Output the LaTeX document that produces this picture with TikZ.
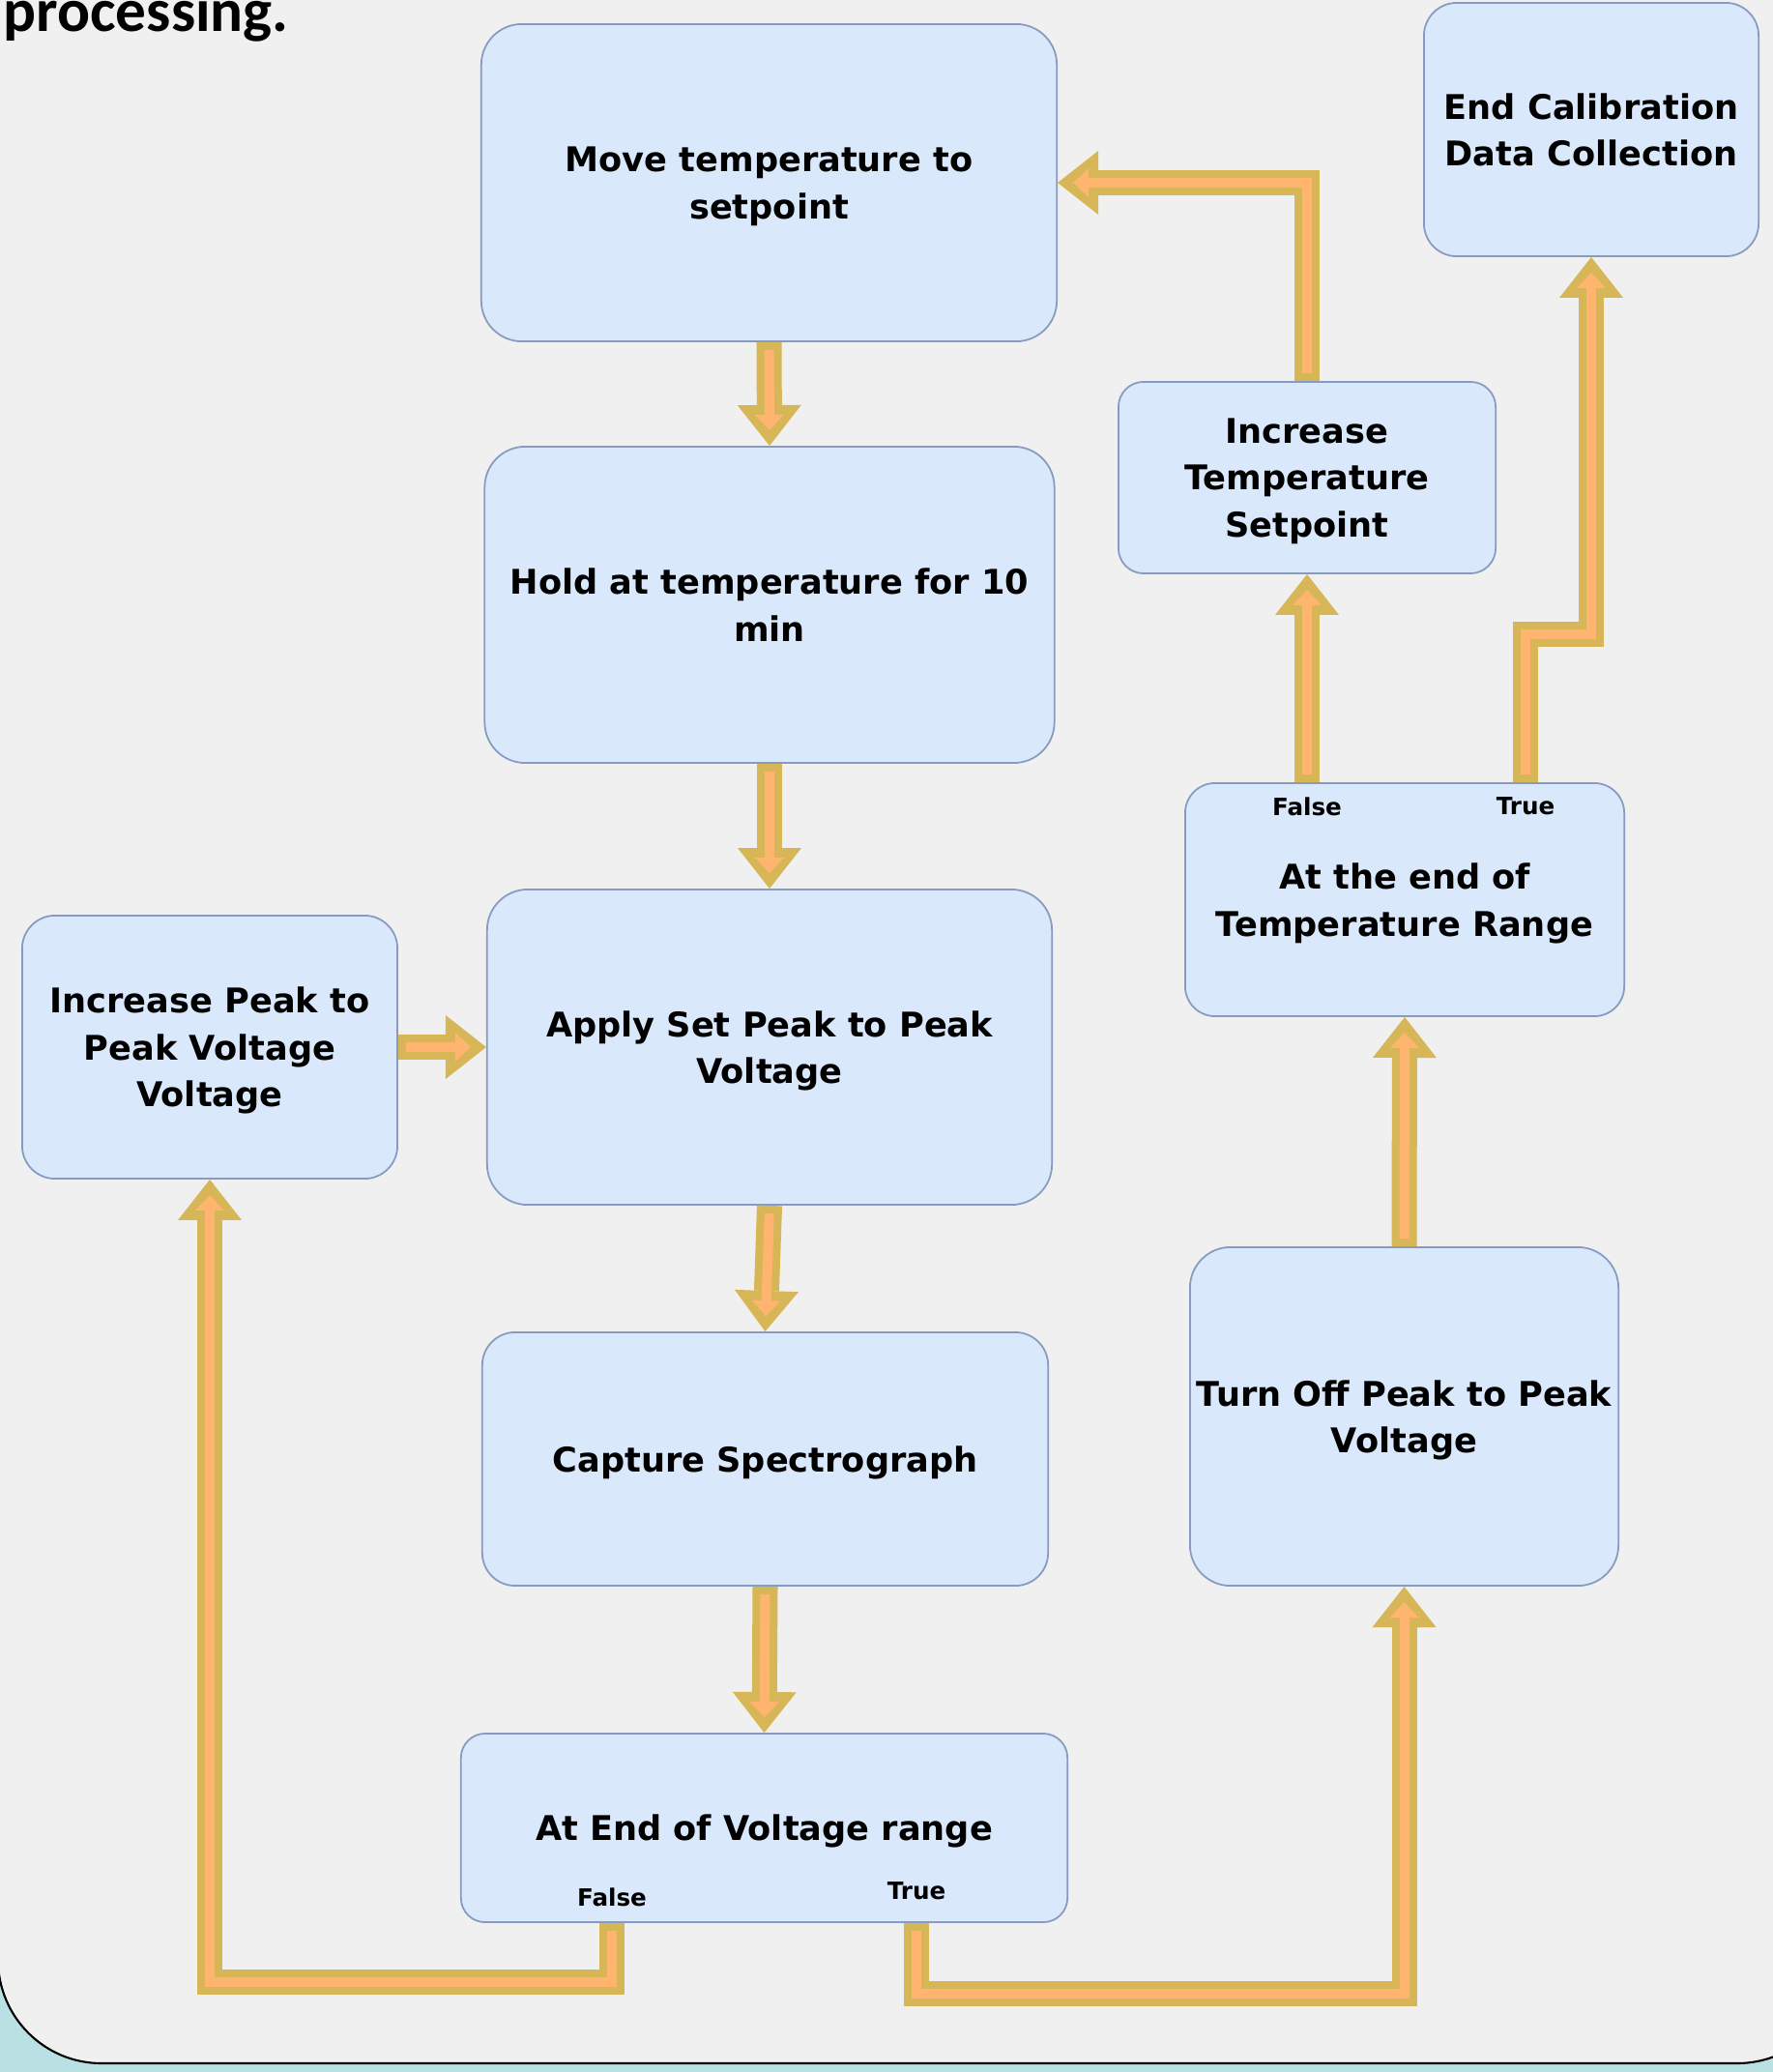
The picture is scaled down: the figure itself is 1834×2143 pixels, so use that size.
\documentclass[tikz,border=0pt]{standalone}
\usepackage{fontspec}
\setmainfont{DejaVu Sans}
\newfontfamily\ttlfont{Carlito}
\usepackage{tikz}
\usetikzlibrary{arrows.meta}
\definecolor{bxfill}{HTML}{DAE8FC}
\definecolor{bxline}{RGB}{135,155,192}
\definecolor{gold}{HTML}{D6B656}
\definecolor{orng}{HTML}{FFB570}
\definecolor{bggray}{HTML}{F0F0F0}
\definecolor{bgsea}{RGB}{185,224,227}
\tikzstyle{ndbox} = [draw=bxline, line width=0.5pt, fill=bxfill, align=center, inner sep=0pt, text depth=0pt, font=\bfseries\fontsize{10}{13.8}\selectfont]
\tikzstyle{ndlbl} = [inner sep=0pt, font=\bfseries\fontsize{7}{8}\selectfont]
\tikzstyle{ndttl} = [inner sep=0pt, anchor=base west, font=\ttlfont\bfseries\fontsize{18}{20}\selectfont]
\tikzstyle{flw} = [draw=gold, line width=0.26cm, line join=miter, -{Triangle[width=0.66cm,length=0.42cm,line width=0pt]},
  postaction={draw=orng, line width=0.1cm, line join=miter, shorten <=0.08cm, shorten >=0.16cm, -{Triangle[width=0.3cm,length=0.16cm,line width=0pt]}}]

\begin{document}
\begin{tikzpicture}[x=0.01cm, y=-0.01cm]
        \useasboundingbox (0,0) rectangle (1834,2143);
        \clip (0,0) rectangle (1834,2143);
        \fill[bgsea] (0,0) rectangle (1834,2143);
        \draw[fill=bggray, line width=0.6pt, rounded corners=1.07cm] (-2,-300) rectangle (1904,2134);
        \node[ndttl] (ttl) at (3,33) {processing.};
        % boxes
        \node[ndbox, minimum width=5.95cm, minimum height=3.28cm, rounded corners=0.42cm] (move) at (795.5,189) {Move temperature to\\setpoint};
        \node[ndbox, minimum width=5.89cm, minimum height=3.27cm, rounded corners=0.42cm] (hold) at (796,625.5) {Hold at temperature for 10\\min};
        \node[ndbox, minimum width=5.84cm, minimum height=3.26cm, rounded corners=0.42cm] (apply) at (796,1083) {Apply Set Peak to Peak\\Voltage};
        \node[ndbox, minimum width=5.85cm, minimum height=2.62cm, rounded corners=0.34cm] (capture) at (791.5,1509) {Capture Spectrograph};
        \node[ndbox, minimum width=6.27cm, minimum height=1.95cm, rounded corners=0.25cm] (atv) at (790.5,1890.5) {At End of Voltage range};
        \node[ndbox, minimum width=3.88cm, minimum height=2.72cm, rounded corners=0.34cm] (incpk) at (217,1083) {Increase Peak to\\Peak Voltage\\Voltage};
        \node[ndbox, minimum width=4.43cm, minimum height=3.50cm, rounded corners=0.42cm] (turnoff) at (1452.5,1465) {Turn Off Peak to Peak\\Voltage};
        \node[ndbox, minimum width=4.54cm, minimum height=2.41cm, rounded corners=0.31cm] (att) at (1453,930.5) {At the end of\\Temperature Range};
        \node[ndbox, minimum width=3.90cm, minimum height=1.98cm, rounded corners=0.26cm] (inctmp) at (1352,494) {Increase\\Temperature\\Setpoint};
        \node[ndbox, minimum width=3.46cm, minimum height=2.62cm, rounded corners=0.34cm] (endcal) at (1646,134) {End Calibration\\Data Collection};
        % branch labels
        \node[ndlbl] (fv) at (633,1962) {False};
        \node[ndlbl] (tv) at (948,1956) {True};
        \node[ndlbl] (ft) at (1352,834) {False};
        \node[ndlbl] (tt) at (1578,834) {True};
        % connectors
        \draw[flw] (move.south) -- (hold.north);
        \draw[flw] (hold.south) -- (apply.north);
        \draw[flw] (apply.south) -- (capture.north);
        \draw[flw] (capture.south) -- (atv.north);
        \draw[flw] (incpk.east) -- (apply.west);
        \draw[flw] (atv.south -| fv) -- ++(0,61) -| (incpk.south);
        \draw[flw] (atv.south -| tv) -- ++(0,73) -| (turnoff.south);
        \draw[flw] (turnoff.north) -- (att.south);
        \draw[flw] (att.north -| ft) -- (inctmp.south);
        \draw[flw] (att.north -| tt) -- ++(0,-153) -| (endcal.south);
        \draw[flw] (inctmp.north) |- (move.east);
      \end{tikzpicture}
\end{document}
